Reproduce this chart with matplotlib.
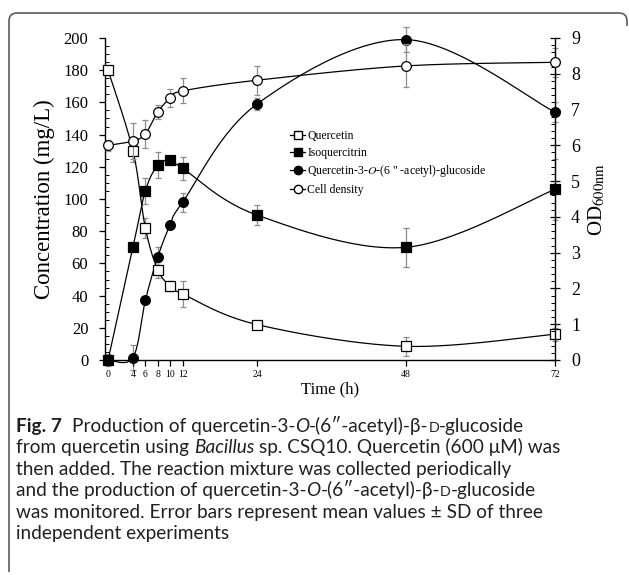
import numpy as np
import matplotlib
matplotlib.use("Agg")
import matplotlib.pyplot as plt
from matplotlib.path import Path
from matplotlib.patches import PathPatch
from matplotlib.lines import Line2D

plt.rcParams['font.family'] = ['Liberation Serif', 'DejaVu Serif']
plt.rcParams['mathtext.fontset'] = 'stix'

# time points (h)
time = [0, 4, 6, 8, 10, 12, 24, 48, 72]

# concentrations (mg/L)
quercetin = [180, 130, 82, 56, 46, 41, 22, 8.5, 16]
quercetin_err = [2, 7, 6, 5, 3, 8, 2, 6, 4]
isoquercitrin = [0, 70, 105, 121, 124, 119, 90, 70, 106]
isoquercitrin_err = [4, 2, 8, 8, 3, 7, 6, 12, 19]
acetyl_glc = [0, 1.5, 37, 64, 84, 98, 159, 199, 154]
acetyl_glc_err = [1, 8, 2, 6, 2, 6, 4, 8, 6]

# cell density (OD600nm)
cell_density = [6.0, 6.12, 6.32, 6.93, 7.32, 7.52, 7.82, 8.22, 8.32]
cell_density_err = [0.15, 0.5, 0.4, 0.2, 0.25, 0.35, 0.4, 0.6, 0.4]

xticks = [0, 4, 6, 8, 10, 12, 24, 48, 72]

W, H = 629, 575


def smooth(x, y, sx, sy, n=30):
    # excel-like smoothed line: bezier through the points, catmull-rom handles
    px = np.asarray(x, float) * sx
    py = np.asarray(y, float) * sy
    pts = np.column_stack([px, py])
    out = [pts[0]]
    for i in range(len(pts) - 1):
        p0 = pts[i - 1] if i > 0 else pts[i]
        p1, p2 = pts[i], pts[i + 1]
        p3 = pts[i + 2] if i + 2 < len(pts) else pts[i + 1]
        c1 = p1 + (p2 - p0) / 6
        c2 = p2 - (p3 - p1) / 6
        t = np.linspace(0, 1, n)[1:, None]
        seg = ((1 - t) ** 3) * p1 + 3 * ((1 - t) ** 2) * t * c1 + 3 * (1 - t) * t ** 2 * c2 + t ** 3 * p2
        out.extend(seg)
    out = np.array(out)
    return out[:, 0] / sx, out[:, 1] / sy


fig = plt.figure(figsize=(W / 100, H / 100), dpi=100)
ax = fig.add_axes([105 / W, 1 - 360 / H, (555 - 105) / W, (360 - 38) / H])
ax2 = ax.twinx()

xmin, xmax = -0.5, 72
ax.set_xlim(xmin, xmax)
ax.set_ylim(0, 200)
ax2.set_ylim(0, 9)

sx = 450 / (xmax - xmin)
sy_left = 322 / 200
sy_right = 322 / 9

ebar = dict(ecolor='#8c8c8c', elinewidth=0.9, capsize=2, capthick=0.9, ls='none', clip_on=False)
mk = dict(markersize=7, markeredgecolor='black', markeredgewidth=0.9, clip_on=False)

# left axis series
for vals, err, marker, face in [(quercetin, quercetin_err, 's', 'white'),
                                (isoquercitrin, isoquercitrin_err, 's', 'black'),
                                (acetyl_glc, acetyl_glc_err, 'o', 'black')]:
    xs, ys = smooth(time, vals, sx, sy_left)
    ax.plot(xs, ys, color='black', lw=0.9, clip_on=False, zorder=2)
    ax.errorbar(time, vals, yerr=err, zorder=1, **ebar)
    ax.plot(time, vals, ls='none', marker=marker, markerfacecolor=face, zorder=3, **mk)

# right axis: cell density
xs, ys = smooth(time, cell_density, sx, sy_right)
ax2.plot(xs, ys, color='black', lw=0.9, clip_on=False, zorder=2)
ax2.errorbar(time, cell_density, yerr=cell_density_err, zorder=1, **ebar)
ax2.plot(time, cell_density, ls='none', marker='o', markerfacecolor='white', zorder=3, **mk)

for a in (ax, ax2):
    a.spines['top'].set_visible(False)
    for s in a.spines.values():
        s.set_linewidth(1.0)
ax.spines['right'].set_visible(False)
ax2.spines['left'].set_visible(False)
ax2.spines['bottom'].set_visible(False)

ax.set_xticks(xticks)
ax.set_xticklabels([str(t) for t in xticks], fontsize=7)
ax.tick_params(axis='x', direction='out', length=4, width=0.9, pad=3)
ax.set_yticks(np.arange(0, 201, 20))
ax.set_yticks(np.arange(0, 201, 5), minor=True)
ax.tick_params(axis='y', which='major', direction='out', length=4, width=0.9, labelsize=12, pad=8)
ax.tick_params(axis='y', which='minor', direction='in', length=3, width=0.7)
ax2.set_yticks(np.arange(0, 10, 1))
ax2.set_yticks(np.arange(0, 9.01, 0.2), minor=True)
ax2.tick_params(axis='y', which='major', direction='inout', length=7, width=0.9, labelsize=13, pad=8)
ax2.tick_params(axis='y', which='minor', direction='in', length=3, width=0.7)

ax.set_xlabel('Time (h)', fontsize=12, labelpad=2)
ax.set_ylabel('Concentration (mg/L)', fontsize=16.5, labelpad=6)
ax2.set_ylabel(r'OD$_{\mathrm{600nm}}$', fontsize=15, labelpad=5)

handles = [
    Line2D([], [], color='black', lw=0.9, marker='s', markerfacecolor='white', markeredgecolor='black', markersize=6),
    Line2D([], [], color='black', lw=0.9, marker='s', markerfacecolor='black', markeredgecolor='black', markersize=6),
    Line2D([], [], color='black', lw=0.9, marker='o', markerfacecolor='black', markeredgecolor='black', markersize=6),
    Line2D([], [], color='black', lw=0.9, marker='o', markerfacecolor='white', markeredgecolor='black', markersize=6),
]
labels = ['Quercetin', 'Isoquercitrin', r'Quercetin-3-$\mathit{O}$-(6 " -acetyl)-glucoside', 'Cell density']
ax2.legend(handles, labels, loc='upper left', bbox_to_anchor=((290 - 105) / 450, (360 - 130) / 322),
           frameon=False, fontsize=8.5, handlelength=1.3, handletextpad=0.15,
           labelspacing=0.4, borderpad=0, borderaxespad=0)

# caption frame (top and left edge, rounded corners)
r = 8
verts = [(9, 572), (9, 13 + r), (9, 13), (9 + r, 13), (627 - r, 13), (627, 13), (627, 13 + r), (627, 26)]
codes = [Path.MOVETO, Path.LINETO, Path.CURVE3, Path.CURVE3, Path.LINETO, Path.CURVE3, Path.CURVE3, Path.LINETO]
verts = [(vx / W, 1 - vy / H) for vx, vy in verts]
fig.add_artist(PathPatch(Path(verts, codes), transform=fig.transFigure, fill=False,
                         edgecolor='#5a5a5a', lw=1.2))

# caption text
cap_font = ['Lato', 'DejaVu Sans']
cap_size = 13.7
caption = [
    [("Fig. 7", 'bold'), ("  Production of quercetin-3-", 'normal'), ("O", 'italic'),
     ("-(6\u2033-acetyl)-\u03b2-", 'normal'), ("D", 'small'), ("-glucoside", 'normal')],
    [("from quercetin using ", 'normal'), ("Bacillus", 'italic'),
     (" sp. CSQ10. Quercetin (600 \u03bcM) was", 'normal')],
    [("then added. The reaction mixture was collected periodically", 'normal')],
    [("and the production of quercetin-3-", 'normal'), ("O", 'italic'),
     ("-(6\u2033-acetyl)-\u03b2-", 'normal'), ("D", 'small'), ("-glucoside", 'normal')],
    [("was monitored. Error bars represent mean values \u00b1 SD of three", 'normal')],
    [("independent experiments", 'normal')],
]

renderer = fig.canvas.get_renderer()


def text_width(s, **kw):
    t = fig.text(0, 0, s, **kw)
    w = t.get_window_extent(renderer).width
    t.remove()
    return w


space_w = text_width("x x", family=cap_font, fontsize=cap_size) - text_width("xx", family=cap_font, fontsize=cap_size)

for i, line in enumerate(caption):
    x = 16
    y = 432 + 21.4 * i
    for s, style in line:
        kw = dict(family=cap_font, fontsize=cap_size, color='#231f20')
        if style == 'bold':
            kw['weight'] = 'bold'
        elif style == 'italic':
            kw['style'] = 'italic'
        elif style == 'small':
            kw['fontsize'] = cap_size * 0.75
        lead = len(s) - len(s.lstrip(' '))
        trail = len(s) - len(s.rstrip(' '))
        x += lead * space_w
        core = s.strip(' ')
        t = fig.text(x / W, 1 - y / H, core, va='baseline', ha='left', **kw)
        x += t.get_window_extent(renderer).width + trail * space_w

fig.savefig('out.png', dpi=100)
